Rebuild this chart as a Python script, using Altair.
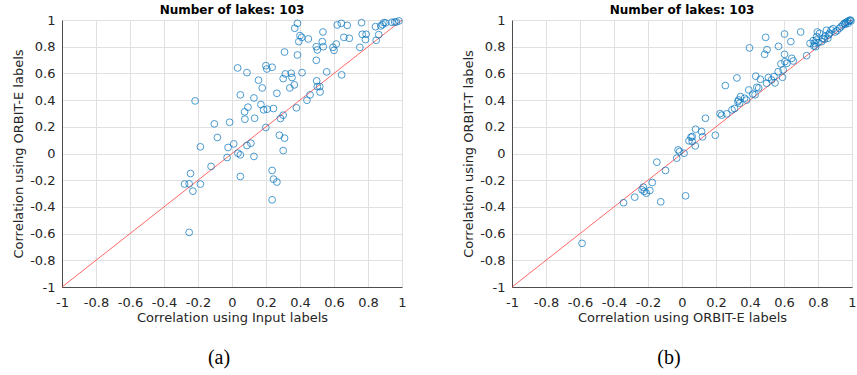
import altair as alt
import pandas as pd

# ---------------- data ----------------
ticks = [-1, -0.8, -0.6, -0.4, -0.2, 0, 0.2, 0.4, 0.6, 0.8, 1]
diag = [-1, 1]

a_x = [0.369, 0.385, 0.393, 0.400, 0.410, 0.449, 0.309, 0.385, 0.535, 0.531,
       0.537, 0.496, 0.502, 0.496, 0.619, 0.643, 0.678, 0.613, 0.594, 0.600,
       0.658, 0.690, 0.762, 0.766, 0.789, 0.785, 0.752, 0.844, 0.848, 0.863,
       0.875, 0.893, 0.904, 0.941, 0.967, 0.982, 0.957, 0.033, 0.088, 0.199,
       0.205, 0.236, 0.156, 0.178, 0.264, 0.301, 0.314, 0.348, 0.353, 0.367,
       0.340, 0.412, 0.557, 0.645, 0.498, 0.502, 0.516, 0.518, 0.459, 0.441,
       0.379, 0.049, 0.129, 0.094, 0.074, 0.076, 0.133, 0.170, 0.186, 0.207,
       0.244, 0.301, 0.285, 0.199, -0.217, -0.104, -0.014, -0.086, -0.186, -0.023,
       0.010, 0.088, 0.111, -0.029, 0.035, 0.049, 0.129, 0.279, 0.309, 0.301,
       -0.123, -0.244, -0.279, -0.252, -0.230, -0.186, 0.049, 0.236, 0.244, 0.264,
       0.236, -0.252, 0.885]
a_y = [0.938, 0.975, 0.838, 0.883, 0.870, 0.858, 0.760, 0.738, 0.910, 0.838,
       0.800, 0.800, 0.776, 0.698, 0.963, 0.975, 0.960, 0.820, 0.795, 0.773,
       0.870, 0.863, 0.980, 0.893, 0.893, 0.853, 0.795, 0.950, 0.848, 0.890,
       0.955, 0.980, 0.978, 0.983, 0.985, 0.993, 0.985, 0.641, 0.606, 0.658,
       0.633, 0.646, 0.549, 0.491, 0.451, 0.561, 0.596, 0.601, 0.569, 0.514,
       0.491, 0.606, 0.611, 0.589, 0.544, 0.501, 0.501, 0.461, 0.439, 0.399,
       0.342, 0.439, 0.416, 0.347, 0.312, 0.257, 0.264, 0.367, 0.327, 0.332,
       0.337, 0.287, 0.262, 0.195, 0.394, 0.222, 0.234, 0.120, 0.050, 0.045,
       0.072, 0.060, 0.077, -0.030, 0.002, -0.010, -0.022, 0.137, 0.115, 0.022,
       -0.097, -0.150, -0.229, -0.227, -0.282, -0.229, -0.172, -0.127, -0.192, -0.214,
       -0.347, -0.591, 0.965]

b_x = [-0.588, -0.344, -0.278, -0.125, 0.021, -0.228, -0.235, -0.222, -0.210, -0.189,
       -0.175, -0.148, -0.097, -0.031, -0.023, -0.014, 0.012, 0.041, 0.053, 0.060,
       0.078, 0.080, 0.115, 0.121, 0.138, 0.196, 0.224, 0.233, 0.263, 0.294,
       0.309, 0.329, 0.333, 0.344, 0.339, 0.368, 0.393, 0.416, 0.440, 0.451,
       0.434, 0.461, 0.255, 0.323, 0.498, 0.508, 0.541, 0.547, 0.566, 0.591,
       0.595, 0.582, 0.605, 0.617, 0.603, 0.646, 0.654, 0.486, 0.500, 0.397,
       0.492, 0.568, 0.603, 0.640, 0.698, 0.733, 0.753, 0.772, 0.780, 0.786,
       0.792, 0.796, 0.800, 0.790, 0.838, 0.842, 0.850, 0.858, 0.868, 0.877,
       0.889, 0.901, 0.776, 0.821, 0.862, 0.912, 0.936, 0.946, 0.955, 0.965,
       0.975, 0.984, 0.990, 0.961, 0.926, 0.809, 0.829, 0.994, 0.060, 0.430,
       0.380, 0.527, 0.977]
b_y = [-0.673, -0.369, -0.327, -0.362, -0.317, -0.252, -0.272, -0.284, -0.297, -0.277,
       -0.217, -0.065, -0.127, -0.035, 0.027, 0.015, 0.002, 0.095, 0.122, 0.090,
       0.057, 0.182, 0.165, 0.125, 0.264, 0.137, 0.299, 0.287, 0.297, 0.327,
       0.337, 0.389, 0.401, 0.426, 0.377, 0.414, 0.476, 0.446, 0.496, 0.491,
       0.579, 0.556, 0.509, 0.566, 0.526, 0.569, 0.576, 0.529, 0.613, 0.571,
       0.626, 0.671, 0.688, 0.676, 0.743, 0.713, 0.693, 0.743, 0.778, 0.791,
       0.870, 0.803, 0.895, 0.838, 0.910, 0.733, 0.825, 0.845, 0.825, 0.800,
       0.875, 0.910, 0.830, 0.850, 0.855, 0.880, 0.923, 0.863, 0.900, 0.925,
       0.935, 0.910, 0.805, 0.838, 0.888, 0.920, 0.950, 0.963, 0.975, 0.983,
       0.990, 0.995, 1.000, 0.968, 0.938, 0.900, 0.863, 0.993, 0.127, 0.440,
       0.400, 0.551, 0.975]

# ---------------- style ----------------
W, H = 340, 267
FONT = "DejaVu Sans"
TXT = "#262626"
BLUE = "#0072BD"
label_expr = "'' + round(datum.value * 10) / 10"

common_axis = dict(
    values=ticks, labelExpr=label_expr, tickSize=0, labelOverlap=False,
    labelFlush=False, labelFont=FONT, titleFont=FONT, labelFontSize=13,
    titleFontSize=13, labelColor=TXT, titleColor=TXT, titleFontWeight="normal",
    domainColor="#4d4d4d", domainWidth=1, gridColor="#e0e0e0", gridWidth=1,
)


def panel(xs, ys, xtitle, ytitle, caption):
    df = pd.DataFrame({"x": xs, "y": ys})
    scale = alt.Scale(domain=[-1, 1], nice=False, zero=False)
    xax = alt.Axis(title=xtitle, labelPadding=9, titlePadding=2, **common_axis)
    yax = alt.Axis(title=ytitle, labelPadding=7, titlePadding=4,
                   minExtent=33, maxExtent=33, **common_axis)
    pts = alt.Chart(df).mark_point(shape="circle", filled=False, size=46,
                                   strokeWidth=1, color=BLUE).encode(
        x=alt.X("x:Q", scale=scale, axis=xax),
        y=alt.Y("y:Q", scale=scale, axis=yax),
    )
    line = alt.Chart(pd.DataFrame({"x": diag, "y": diag})).mark_line(
        color="#ff0000", strokeWidth=0.6).encode(
        x=alt.X("x:Q", scale=scale, axis=xax),
        y=alt.Y("y:Q", scale=scale, axis=yax))
    cap = alt.Chart(pd.DataFrame({"c": [caption]})).mark_text(
        font="Liberation Serif", fontSize=20, color="black",
        baseline="middle", align="center").encode(
        text="c:N", x=alt.value(W / 2 - 13), y=alt.value(H + 71))
    return alt.layer(line, pts, cap).properties(
        width=W, height=H,
        title=alt.TitleParams("Number of lakes: 103", font=FONT, fontSize=12,
                              fontWeight="bold", color="black", offset=-3),
    )


left = panel(a_x, a_y, "Correlation using Input labels",
             "Correlation using ORBIT-E labels", "(a)")
right = panel(b_x, b_y, "Correlation using ORBIT-E labels",
              "Correlation using ORBIT-T labels", "(b)")

chart = alt.hconcat(left, right, spacing=54).properties(
    padding={"left": 11, "top": 3, "right": 0, "bottom": 0}
).configure_view(stroke=None).configure(background="white")

chart.save("out.html", embed_options={"renderer": "svg", "actions": False})
